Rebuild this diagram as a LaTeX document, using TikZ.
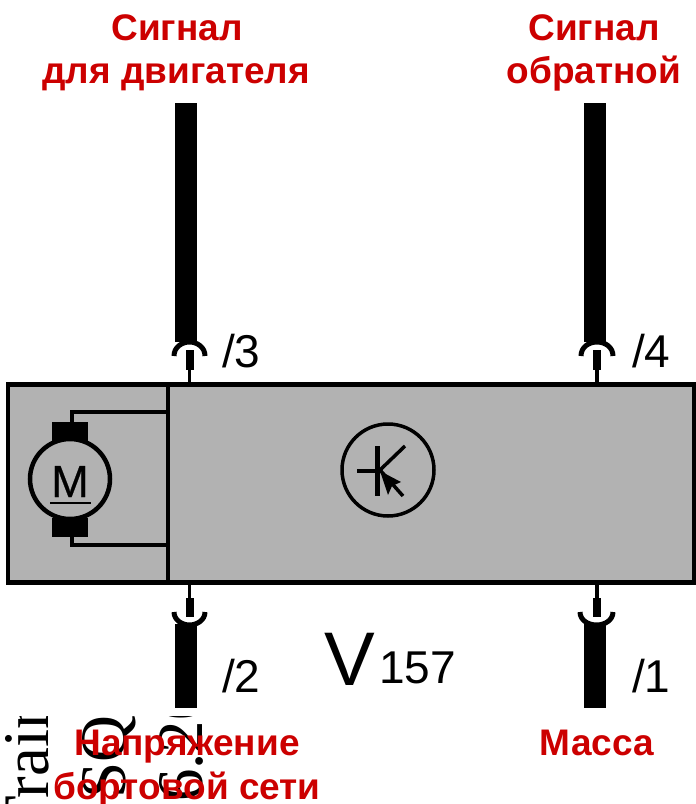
\documentclass[tikz,border=0pt]{standalone}
\usepackage{fontspec}
\setmainfont{Liberation Sans}
\newfontfamily\serifface{Liberation Serif}
\newfontfamily\heavyface[FakeBold=0.5]{Liberation Sans}
\usetikzlibrary{arrows}
\definecolor{boxgray}{HTML}{B2B2B2}
\definecolor{labelred}{HTML}{CC0000}

\begin{document}
\begin{tikzpicture}[x=1pt,y=-1pt]
\tikzstyle{hlabel} = [text=labelred,font=\fontsize{37}{37}\selectfont\bfseries,inner sep=0pt,anchor=base]
\tikzstyle{pinlabel} = [font=\fontsize{46}{46}\selectfont,inner sep=0pt,anchor=base west]
\tikzstyle{junk} = [font=\fontsize{65}{65}\serifface,inner sep=0pt,anchor=base west,rotate=90]
\tikzstyle{wire} = [draw=black,line width=3.5pt]
\tikzstyle{cable} = [draw=black,line width=22pt]
\tikzstyle{pin} = [draw=black,line width=8pt]
\tikzstyle{cup} = [draw=black,line width=5pt]
\useasboundingbox (0,0) rectangle (696,804);

% clipped text along the lower edge
\begin{scope}
\clip (0,716) rectangle (240,804);
\node[junk] (trainword) at (48,836) {Train};
\node[junk] (ssqword) at (125,799) {SQ};
\node[junk] (numword) at (202,802) {6.20};
\end{scope}

% housing
\fill[boxgray] (8,384) rectangle (696,583);
\draw[black,line width=4.5pt] (696,384.5) -- (8,384.5) -- (8,582.5) -- (696,582.5);
\draw[black,line width=4.5pt] (694,382) -- (694,585);
\draw[black,line width=4pt] (168,384) -- (168,582);

% motor
\fill[black] (52,422) rectangle (88,441);
\fill[black] (52,518) rectangle (88,537);
\node[draw=black,line width=4.5pt,circle,minimum size=80pt,inner sep=0pt] (motor) at (70,479) {};
\node[font=\fontsize{45}{45}\heavyface,inner sep=0pt,anchor=base] (mletter) at (70,497) {M};
\coordinate (mruleL) at (50,503);
\coordinate (mruleR) at (91,503);
\draw[black,line width=2.5pt] (mruleL) -- (mruleR);
\coordinate (brushtop) at (72,422);
\coordinate (brushbot) at (72,537);
\coordinate (divtop) at (168,412);
\coordinate (divbot) at (168,545);
\draw[wire,line width=4pt] (brushtop) |- (divtop);
\draw[wire,line width=4pt] (brushbot) |- (divbot);

% transistor
\node[draw=black,line width=3.5pt,circle,minimum size=92pt,inner sep=0pt] (trans) at (388,470) {};
\coordinate (baseL) at (357,471);
\coordinate (baseC) at (377,471);
\coordinate (baseT) at (377,446);
\coordinate (baseB) at (377,496);
\coordinate (collE) at (405,446);
\coordinate (emitS) at (380,470);
\coordinate (emitE) at (403,496);
\draw[wire] (baseL) -- (baseC);
\draw[black,line width=5pt] (baseT) -- (baseB);
\draw[wire] (emitS) -- (collE);
\draw[wire] (emitS) -- (emitE);
\fill[black] (380,471) -- (401,482) -- (392,486) -- (388,495) -- cycle;

% connectors
\coordinate (cableA) at (186,103);
\coordinate (cableAend) at (186,342);
\coordinate (cableB) at (595,103);
\coordinate (cableBend) at (595,342);
\coordinate (cableC) at (186,624);
\coordinate (cableCend) at (186,708);
\coordinate (cableD) at (595,624);
\coordinate (cableDend) at (595,708);
\draw[cable] (cableA) -- (cableAend);
\draw[cable] (cableB) -- (cableBend);
\draw[cable] (cableC) -- (cableCend);
\draw[cable] (cableD) -- (cableDend);
\draw[cup] (174,356) .. controls (174,347) and (182,342) .. (189.5,342) .. controls (197,342) and (205,347) .. (205,356);
\draw[cup] (581,356) .. controls (581,347) and (589,342) .. (597,342) .. controls (605,342) and (613,347) .. (613,356);
\draw[cup] (174,612) .. controls (174,620) and (182,625) .. (189.5,625) .. controls (197,625) and (205,620) .. (205,612);
\draw[cup] (580,612) .. controls (580,620) and (588,625) .. (596.5,625) .. controls (605,625) and (613,620) .. (613,612);
\coordinate (pinAt) at (189.5,350);
\coordinate (pinAb) at (189.5,370);
\coordinate (pinBt) at (597,350);
\coordinate (pinBb) at (597,370);
\coordinate (pinCt) at (189.5,598);
\coordinate (pinCb) at (189.5,617);
\coordinate (pinDt) at (597,598);
\coordinate (pinDb) at (597,617);
\draw[pin] (pinAt) -- (pinAb);
\draw[pin] (pinBt) -- (pinBb);
\draw[pin] (pinCt) -- (pinCb);
\draw[pin] (pinDt) -- (pinDb);
\draw[wire] (pinAb) -- (189.5,384);
\draw[wire] (pinBb) -- (597,384);
\draw[wire] (pinCt) -- (189.5,582);
\draw[wire] (pinDt) -- (597,582);

% labels
\node[hlabel] (sigA) at (177,40) {Сигнал};
\node[hlabel] (sigAb) at (176,83) {для двигателя};
\node[hlabel] (sigB) at (594,40) {Сигнал};
\node[hlabel] (sigBb) at (594,83) {обратной};
\node[hlabel] (supply) at (187,755) {Напряжение};
\node[hlabel] (supplyb) at (187,799) {бортовой сети};
\node[hlabel] (ground) at (597,755) {Масса};
\node[pinlabel] (termc) at (222,367) {/3};
\node[pinlabel] (termd) at (632,367) {/4};
\node[pinlabel] (termb) at (222,692) {/2};
\node[pinlabel] (terma) at (632,692) {/1};
\node[font=\fontsize{76}{76}\selectfont,inner sep=0pt,anchor=base west] (vname) at (324,685) {V};
\node[font=\fontsize{46}{46}\selectfont,inner sep=0pt,anchor=base west] (vnum) at (379,683) {157};
\end{tikzpicture}
\end{document}
